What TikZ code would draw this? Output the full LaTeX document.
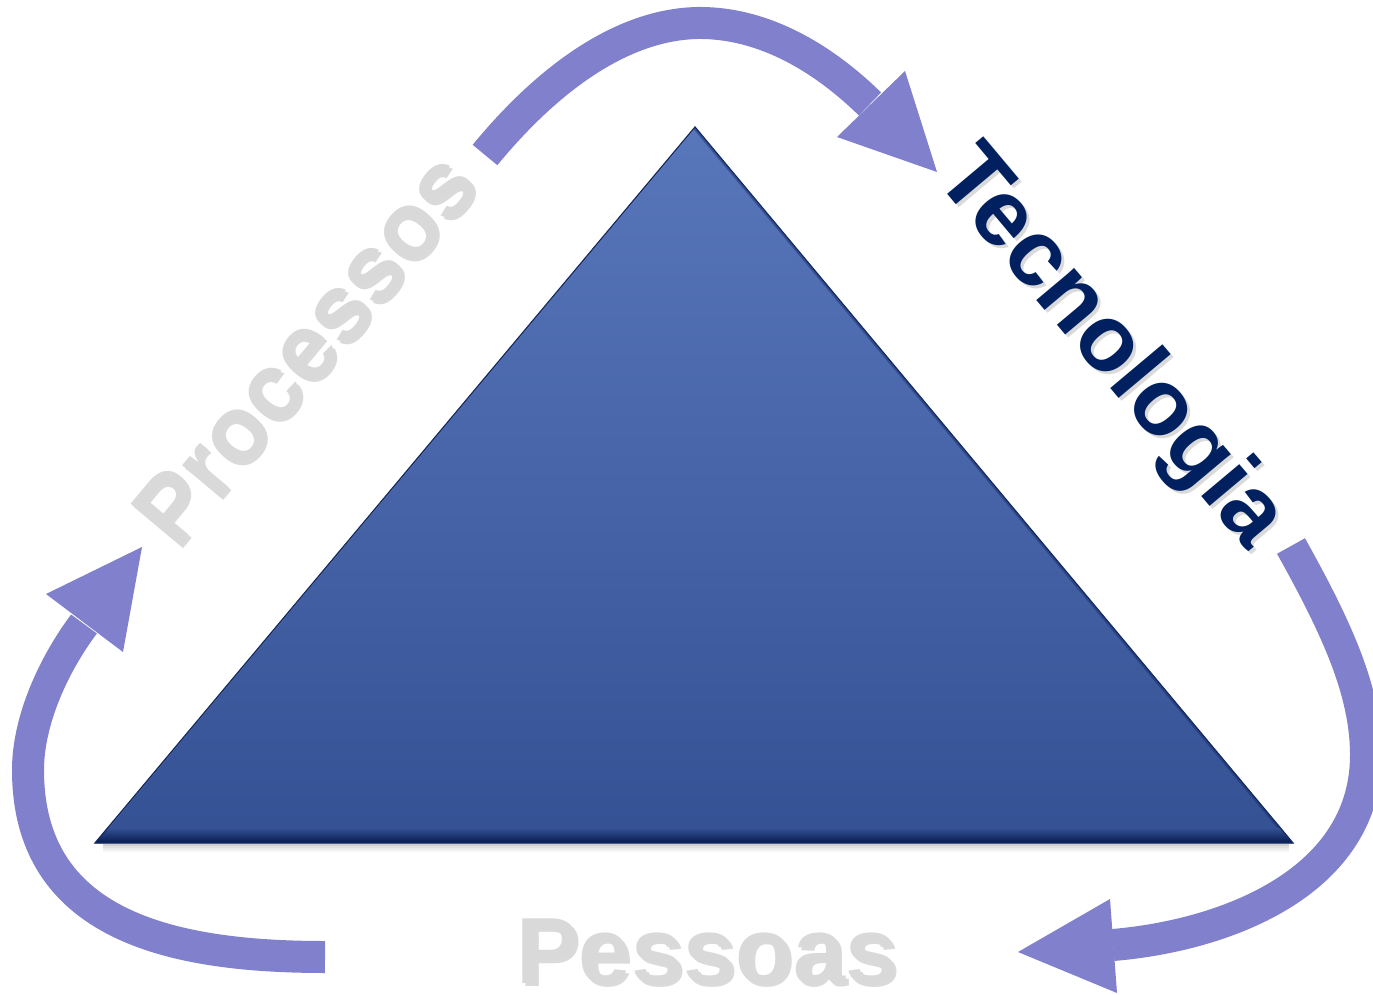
\documentclass[tikz,border=0pt]{standalone}
\usepackage{fontspec}
\setmainfont{Liberation Sans}
\usetikzlibrary{calc}
\definecolor{arrowc}{RGB}{128,128,204}
\definecolor{tritop}{RGB}{88,119,186}
\definecolor{tribot}{RGB}{52,81,148}
\definecolor{triedge}{RGB}{20,40,100}
\definecolor{tridark}{RGB}{6,26,80}
\definecolor{navy}{RGB}{0,32,96}
\definecolor{lgray}{RGB}{217,217,217}
\definecolor{sgray}{RGB}{150,150,150}
\begin{document}
\begin{tikzpicture}[x=1pt,y=-1pt,
  shaft/.style={draw=arrowc,line width=32pt,line cap=butt},
  head/.style={fill=arrowc},
  lbl/.style={inner sep=0pt,anchor=base west,font=\fontsize{94}{94}\selectfont\bfseries},
  shadowlbl/.style={lbl,text=sgray,opacity=0.35},
]
\useasboundingbox (0,0) rectangle (1373,995);
\clip (0,0) rectangle (1373,995);

% triangle corners
\coordinate (apex) at (695,127);
\coordinate (bl) at (95,843);
\coordinate (br) at (1293,843);
\coordinate (bandl) at (107.6,828);
\coordinate (bandr) at (1280.5,828);

% soft shadow under triangle
\foreach \d/\o in {2/0.30,4/0.20,6/0.12,8/0.06}{
  \draw[black!60,line width=2pt,opacity=\o] ($(bl)+(8,\d)$) -- ($(br)+(-4,\d)$);
}
\fill[top color=tritop,bottom color=tribot] (apex) -- (br) -- (bl) -- cycle;
\begin{scope}
  \clip (apex) -- (br) -- (bl) -- cycle;
  \draw[triedge,line width=5pt,opacity=0.45] (apex) -- (br);
  \draw[white,line width=2pt,opacity=0.15] (apex) -- (bl);
\end{scope}
\shade[top color=tribot,bottom color=tridark] (bandl) -- (bandr) -- (br) -- (bl) -- cycle;
\draw[triedge,line width=1.2pt,line join=miter] (apex) -- (br) -- (bl) -- cycle;

% arrow coordinates
\coordinate (t0) at (485,155);
\coordinate (t1) at (697,23);
\coordinate (t2) at (870,104);
\coordinate (r0) at (1291,546);
\coordinate (r1) at (1366,755);
\coordinate (r2) at (1113,945);
\coordinate (l0) at (325,957);
\coordinate (l1) at (28,770);
\coordinate (l2) at (84,624);

% top arrow
\draw[shaft] (t0) .. controls (540,88) and (615,25) .. (t1) .. controls (765,22) and (825,60) .. (t2);
\fill[head] (905,71) -- (937,172) -- (837,137) -- cycle;
% right arrow
\draw[shaft] (r0) .. controls (1335,625) and (1366,690) .. (r1) .. controls (1366,880) and (1230,935) .. (r2);
\fill[head] (1110,899) -- (1018,952) -- (1117,993) -- cycle;
% left arrow
\draw[shaft] (l0) .. controls (170,957) and (28,925) .. (l1) .. controls (28,720) and (54,664) .. (l2);
\fill[head] (46,594) -- (142,547) -- (123,652) -- cycle;

% labels (with soft drop shadows)
\node[shadowlbl,rotate=50] (procS) at (179,554) {Processos};
\node[lbl,rotate=50,text=lgray] (proc) at (176,551) {Processos};
\node[shadowlbl,rotate=-50] (tecS) at (936,180) {Tecnologia};
\node[lbl,rotate=-50,text=navy] (tec) at (933,177) {Tecnologia};
\node[shadowlbl] (pesS) at (519,986) {Pessoas};
\node[lbl,text=lgray] (pes) at (516,983) {Pessoas};
\end{tikzpicture}
\end{document}
